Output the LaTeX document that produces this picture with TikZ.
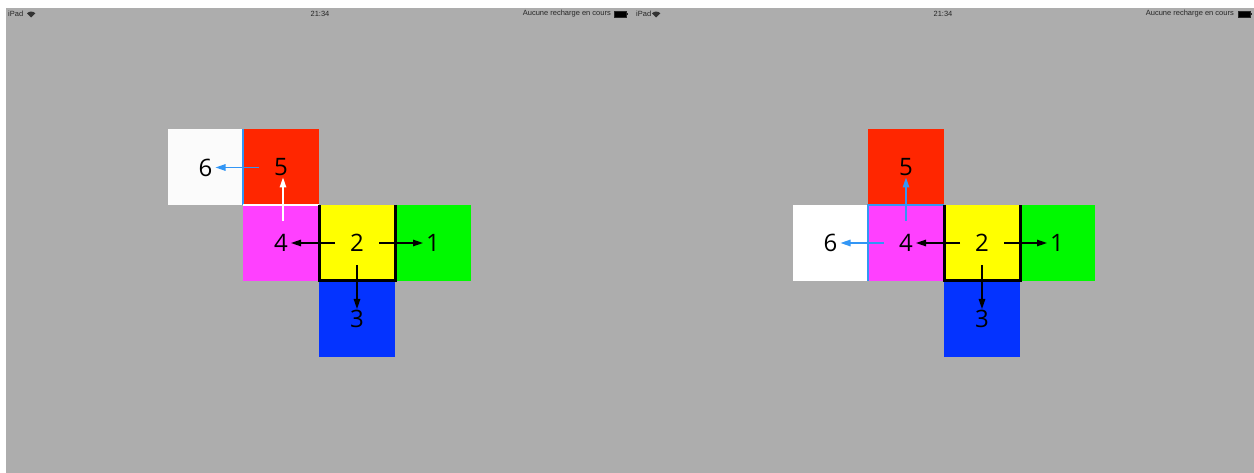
\documentclass[tikz,border=0pt]{standalone}
\usepackage{fontspec}
\setmainfont{Liberation Sans}
\newfontfamily\digitfont{Open Sans}
\usetikzlibrary{arrows.meta}
\definecolor{screengray}{RGB}{173,173,173}
\definecolor{tilered}{RGB}{255,38,0}
\definecolor{tilemagenta}{RGB}{255,64,255}
\definecolor{tileyellow}{RGB}{255,255,0}
\definecolor{tilegreen}{RGB}{0,249,0}
\definecolor{tileblue}{RGB}{4,51,255}
\definecolor{linkblue}{RGB}{50,150,245}

\tikzset{
    tile/.style={minimum size=76pt, inner sep=0pt, outer sep=0pt,
        font=\digitfont\fontsize{24}{24}\selectfont},
    status/.style={font=\fontsize{7.5}{8}\selectfont, text=black!85, inner sep=0pt},
    arr/.style={-{Triangle[length=10pt,width=6.5pt]}, line width=1.3pt,
        shorten <=22pt, shorten >=10pt},
}

\begin{document}
\begin{tikzpicture}[x=1pt,y=-1pt]
    \useasboundingbox (0,0) rectangle (1254,473);
    \fill[white] (0,0) rectangle (1254,473);
    \fill[screengray] (6,8) rectangle (1254,473);

    % status bars
    \node[status, anchor=west] (sbipadL) at (8,14) {iPad};
    \node[status] (sbtimeL) at (320,14) {21:34};
    \node[status, anchor=east] (sbchargeL) at (611,14) {Aucune recharge en cours};
    \node[status, anchor=west] (sbipadR) at (636,14) {iPad};
    \node[status] (sbtimeR) at (943,14) {21:34};
    \node[status, anchor=east] (sbchargeR) at (1234,14) {Aucune recharge en cours};

    \fill[black!80] (31,17.5) -- ++(-4,-4.2) arc[start angle=225,end angle=315,radius=5.9] -- cycle;
    \fill[black!80] (656,17.5) -- ++(-4,-4.2) arc[start angle=225,end angle=315,radius=5.9] -- cycle;
    \draw[black!85, fill=black, line width=0.6pt] (614,11) rectangle (626,17);
    \fill[black!85] (626.5,12.8) rectangle (628,15.2);
    \draw[black!85, fill=black, line width=0.6pt] (1238,11) rectangle (1250,17);
    \fill[black!85] (1250.5,12.8) rectangle (1252,15.2);

    % left net
    \node[tile, fill=white!97!gray] (L6) at (205.5,167.5) {6};
    \node[tile, fill=tilered] (L5) at (281,167.5) {5};
    \node[tile, fill=tilemagenta] (L4) at (281,243) {4};
    \node[tile, fill=tileyellow] (L2) at (357,243) {2};
    \node[tile, fill=tilegreen] (L1) at (433,243) {1};
    \node[tile, fill=tileblue] (L3) at (357,319) {3};

    \draw[line width=2.5pt, linkblue] (L5.north west) -- (L5.south west);
    \draw[line width=1.5pt, white] (L4.north west) -- (L4.north east);
    \draw[line width=3pt] (L2.north west) -- (L2.south west) -- (L2.south east) -- (L2.north east);

    \draw[arr] (L2.center) -- (L1.center);
    \draw[arr] (L2.center) -- (L4.center);
    \draw[arr] (L2.center) -- (L3.center);
    \draw[arr, white] ([xshift=2pt]L4.center) -- ([xshift=2pt]L5.center);
    \draw[arr, linkblue] (L5.center) -- (L6.center);

    % right net
    \node[tile, fill=tilered] (R5) at (906,167.5) {5};
    \node[tile, fill=white] (R6) at (830.5,243) {6};
    \node[tile, fill=tilemagenta] (R4) at (906,243) {4};
    \node[tile, fill=tileyellow] (R2) at (982,243) {2};
    \node[tile, fill=tilegreen] (R1) at (1057,243) {1};
    \node[tile, fill=tileblue] (R3) at (982,319) {3};

    \draw[line width=2.5pt, linkblue] (R4.north east) -- (R4.north west) -- (R4.south west);
    \draw[line width=3pt] (R2.north west) -- (R2.south west) -- (R2.south east) -- (R2.north east);

    \draw[arr] (R2.center) -- (R1.center);
    \draw[arr] (R2.center) -- (R4.center);
    \draw[arr] (R2.center) -- (R3.center);
    \draw[arr, linkblue] (R4.center) -- (R5.center);
    \draw[arr, linkblue] (R4.center) -- (R6.center);
\end{tikzpicture}
\end{document}
